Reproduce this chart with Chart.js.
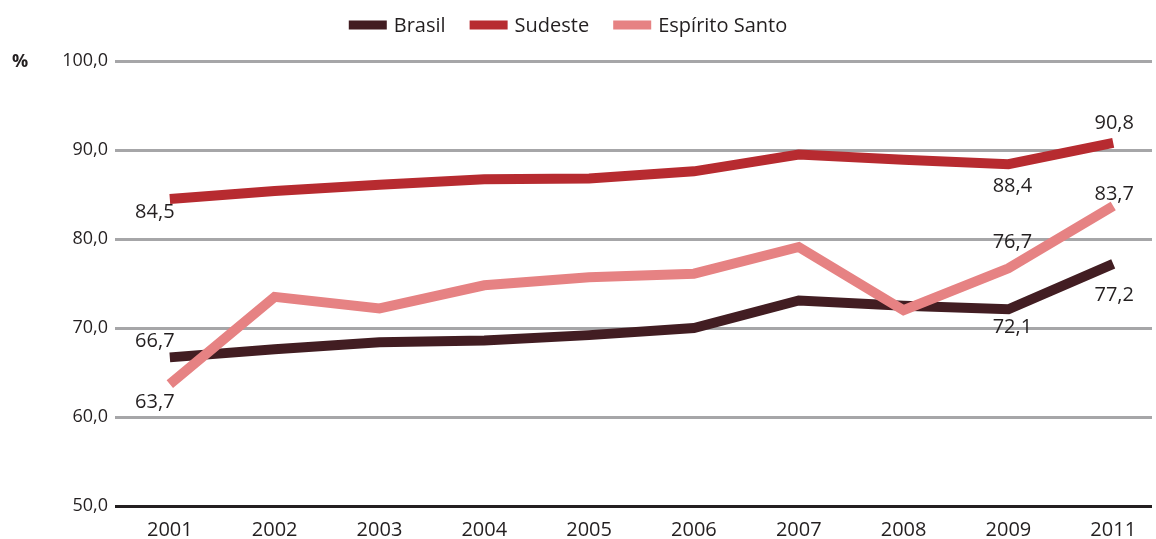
<!DOCTYPE html>
<html>
<head>
<meta charset="utf-8">
<script src="https://cdn.jsdelivr.net/npm/chart.js@4/dist/chart.umd.min.js"></script>
<style>
  html, body { margin: 0; padding: 0; background: #fff; }
  #wrap { width: 1156px; height: 539px; }
</style>
</head>
<body>
<div id="wrap"><canvas id="canvas"></canvas></div>
<script>
// anos e séries (%)
const years = ['2001', '2002', '2003', '2004', '2005', '2006', '2007', '2008', '2009', '2011'];
const brasil = [66.7, 67.6, 68.4, 68.6, 69.2, 70.0, 73.1, 72.5, 72.1, 77.2];
const sudeste = [84.5, 85.4, 86.1, 86.7, 86.8, 87.6, 89.5, 88.9, 88.4, 90.8];
const espiritoSanto = [63.7, 73.5, 72.2, 74.8, 75.7, 76.1, 79.1, 72.0, 76.7, 83.7];
const yTicks = [50, 60, 70, 80, 90, 100];

const TEXT = '#231F20';
const FONT = '"Open Sans", sans-serif';

function fmt(v) {
  return v.toFixed(1).replace('.', ',');
}

function points(values) {
  return values.map((v, i) => ({ x: i, y: v }));
}

// which values get a label and where it sits next to the point
const valueLabels = [
  { ds: 0, i: 0, dx: -15, dy: -16 },
  { ds: 0, i: 8, dx: 4, dy: 18 },
  { ds: 0, i: 9, dx: 1, dy: 31 },
  { ds: 1, i: 0, dx: -15, dy: 13 },
  { ds: 1, i: 8, dx: 4, dy: 22 },
  { ds: 1, i: 9, dx: 1, dy: -20 },
  { ds: 2, i: 0, dx: -15, dy: 18 },
  { ds: 2, i: 8, dx: 4, dy: -26 },
  { ds: 2, i: 9, dx: 1, dy: -12 }
];

const labelPlugin = {
  id: 'valueLabels',
  afterDatasetsDraw(chart) {
    const ctx = chart.ctx;
    const xs = chart.scales.x, ys = chart.scales.y;
    ctx.save();
    ctx.font = '20px ' + FONT;
    ctx.fillStyle = TEXT;
    ctx.textAlign = 'center';
    ctx.textBaseline = 'middle';
    for (const l of valueLabels) {
      const v = chart.data.datasets[l.ds].data[l.i];
      ctx.fillText(fmt(v.y), xs.getPixelForValue(v.x) + l.dx, ys.getPixelForValue(v.y) + l.dy);
    }
    // unidade do eixo
    ctx.font = 'bold 18px ' + FONT;
    ctx.textAlign = 'left';
    ctx.fillText('%', 12, ys.getPixelForValue(100) + 1);
    ctx.restore();
  }
};

// legenda em linha no topo: caixa, texto, espaço
const legendPlugin = {
  id: 'topLegend',
  afterDraw(chart) {
    const ctx = chart.ctx;
    const sets = chart.data.datasets;
    const boxW = 38, boxH = 9, gap = 7, between = 24, midX = 568, midY = 25;
    ctx.save();
    ctx.font = '20px ' + FONT;
    ctx.textBaseline = 'middle';
    ctx.textAlign = 'left';
    const widths = sets.map(d => ctx.measureText(d.label).width);
    let total = widths.reduce((a, w) => a + boxW + gap + w, 0) + between * (sets.length - 1);
    let x = midX - total / 2;
    sets.forEach((d, i) => {
      ctx.fillStyle = d.borderColor;
      ctx.fillRect(x, midY - boxH / 2, boxW, boxH);
      x += boxW + gap;
      ctx.fillStyle = TEXT;
      ctx.fillText(d.label, x, midY + 1);
      x += widths[i] + between;
    });
    ctx.restore();
  }
};

const ctx = document.getElementById('canvas').getContext('2d');
const myChart = new Chart(ctx, {
  type: 'line',
  data: {
    datasets: [
      { label: 'Brasil', data: points(brasil), borderColor: '#421D22', backgroundColor: '#421D22', order: 3 },
      { label: 'Sudeste', data: points(sudeste), borderColor: '#B72B30', backgroundColor: '#B72B30', order: 2 },
      { label: 'Espírito Santo', data: points(espiritoSanto), borderColor: '#E68283', backgroundColor: '#E68283', order: 1 }
    ]
  },
  options: {
    responsive: true,
    maintainAspectRatio: false,
    animation: false,
    layout: { padding: { top: 61, right: 4, left: 0, bottom: 0 } },
    elements: {
      line: { borderWidth: 10, tension: 0, borderCapStyle: 'butt', borderJoinStyle: 'miter' },
      point: { radius: 0, hoverRadius: 0 }
    },
    plugins: {
      tooltip: { enabled: false },
      legend: { display: false }
    },
    scales: {
      x: {
        type: 'linear',
        min: -0.523,
        max: 9.37,
        afterBuildTicks(scale) {
          scale.ticks = years.map((_, i) => ({ value: i }));
        },
        afterFit(scale) { scale.height = 33; },
        ticks: {
          color: TEXT,
          font: { family: FONT, size: 20 },
          padding: 4,
          maxRotation: 0,
          autoSkip: false,
          callback: (v) => years[v]
        },
        grid: { display: false },
        border: { display: false }
      },
      y: {
        min: 50,
        max: 100,
        afterBuildTicks(scale) {
          scale.ticks = yTicks.map(v => ({ value: v }));
        },
        afterFit(scale) { scale.width = 115; },
        ticks: {
          color: TEXT,
          font: { family: FONT, size: 18 },
          padding: 7,
          callback: (v) => fmt(v)
        },
        grid: {
          drawTicks: false,
          lineWidth: 3,
          color: (c) => c.tick && c.tick.value === 50 ? TEXT : '#A6A6A8'
        },
        border: { display: false }
      }
    }
  },
  plugins: [labelPlugin, legendPlugin]
});
</script>
</body>
</html>
